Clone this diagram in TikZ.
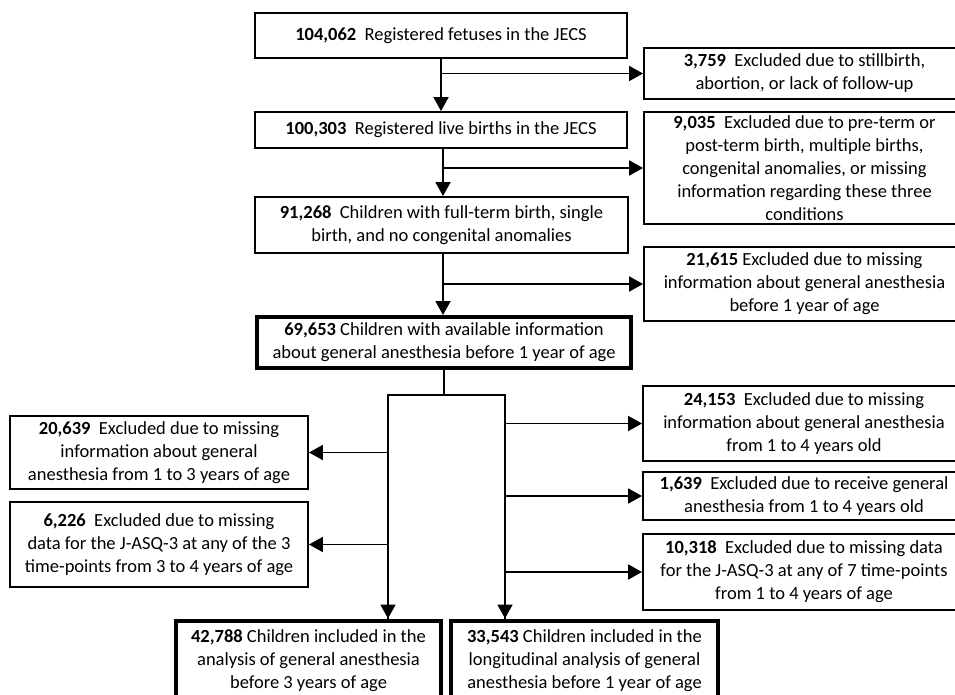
\documentclass[tikz,border=0pt]{standalone}
\usepackage{fontspec}
\setmainfont{Carlito}
\usetikzlibrary{arrows.meta}
\tikzset{
  box/.style={draw, line width=1.9pt, rectangle, inner sep=0pt, align=center,
    font=\fontsize{18.5}{23}\selectfont},
  mainbox/.style={box, line width=4pt},
  conn/.style={line width=1.9pt},
  arr/.style={conn, -{Triangle[length=14pt,width=15pt]}}
}
\begin{document}
\begin{tikzpicture}[x=1pt,y=-1pt]
\useasboundingbox (0,0) rectangle (955,695);
\node[box, minimum width=372pt, minimum height=45pt] (A) at (441,35.5)
  {\textbf{104,062}\ \ Registered fetuses in the JECS};
\node[box, minimum width=321pt, minimum height=51pt] (C1) at (804.5,73.5)
  {\textbf{3,759}\ \ Excluded due to stillbirth,\\abortion, or lack of follow-up};
\node[box, minimum width=372pt, minimum height=36pt] (B) at (441,130)
  {\textbf{100,303}\ \ Registered live births in the JECS};
\node[box, minimum width=321pt, minimum height=112pt] (C2) at (804.5,168)
  {\textbf{9,035}\ \ Excluded due to pre-term or\\post-term birth, multiple\ births,\\congenital anomalies, or missing\\information regarding these three\\conditions};
\node[box, minimum width=373pt, minimum height=56pt] (D) at (441.5,225)
  {\textbf{91,268}\ \ Children with full-term birth, single\\birth, and no congenital anomalies};
\node[box, minimum width=321pt, minimum height=74pt] (C3) at (804.5,284)
  {\textbf{21,615} Excluded due to missing\\information about general anesthesia\\before 1 year of age};
\node[mainbox, minimum width=374pt, minimum height=51pt] (E) at (444,342.5)
  {\textbf{69,653} Children with available information\\about general anesthesia before 1 year of age};
\node[box, minimum width=298pt, minimum height=73pt] (L1) at (159,452.5)
  {\textbf{20,639}\ \ Excluded due to missing\\information about general\\anesthesia from 1 to 3 years of age};
\node[box, minimum width=298pt, minimum height=85pt] (L2) at (159,544.5)
  {\textbf{6,226}\ \ Excluded due to missing\\data for the J-ASQ-3 at any of the 3\\time-points from 3 to 4 years of age};
\node[box, minimum width=322pt, minimum height=75pt] (R1) at (804,423.5)
  {\textbf{24,153}\ \ Excluded due to missing\\information about general anesthesia\\from 1 to 4 years old};
\node[box, minimum width=322pt, minimum height=48pt] (R2) at (804,496)
  {\textbf{1,639}\ \ Excluded due to receive general\\anesthesia from 1 to 4 years old};
\node[box, minimum width=322pt, minimum height=76pt] (R3) at (804,572)
  {\textbf{10,318}\ \ Excluded due to missing data\\for the J-ASQ-3 at any of 7 time-points\\from 1 to 4 years of age};
\node[mainbox, minimum width=265pt, minimum height=80pt] (F1) at (308.5,660.5)
  {\textbf{42,788} Children included in the\\analysis of general anesthesia\\before 3 years of age};
\node[mainbox, minimum width=267pt, minimum height=80pt] (F2) at (584.5,660.5)
  {\textbf{33,543} Children included in the\\longitudinal\ analysis of general\\anesthesia before 1 year of age};
% connectors
\draw[arr] (A.south) -- (B.north);
\draw[arr] (A.south |- C1.west) -- (C1.west);
\draw[arr] ([xshift=2pt]B.south) -- ([xshift=2pt]B.south |- D.north);
\draw[arr] ([xshift=2pt]B.south |- C2.west) -- (C2.west);
\draw[arr] ([xshift=1.5pt]D.south) -- ([xshift=1.5pt]D.south |- E.north);
\draw[arr] ([xshift=1.5pt]D.south |- C3.west) -- (C3.west);
\coordinate (s) at (444,395);
\coordinate (sl) at (388,395);
\coordinate (sr) at (505,395);
\draw[conn] (E.south) -- (s);
\draw[conn, line join=miter] (sl |- F1.north) -- (sl) -- (sr) -- (sr |- F2.north);
\draw[arr] (sl) -- (sl |- F1.north);
\draw[arr] (sr) -- (sr |- F2.north);
\draw[arr] (sl |- L1.east) -- (L1.east);
\draw[arr] (sl |- L2.east) -- (L2.east);
\draw[arr] (sr |- R1.west) -- (R1.west);
\draw[arr] (sr |- R2.west) -- (R2.west);
\draw[arr] (sr |- R3.west) -- (R3.west);
\end{tikzpicture}
\end{document}
